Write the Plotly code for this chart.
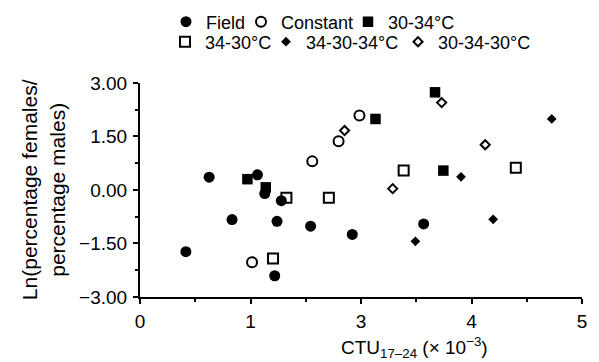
import plotly.graph_objects as go

# x values are in axis-position units; tick labels as printed on the original axis
X_TICK_POS = [0, 1, 2, 3, 4]
X_TICK_TEXT = ["0", "1", "3", "4", "5"]
X_MINOR_POS = [0.5, 1.5, 2.5, 3.5]
Y_TICK_VALS = [-3.0, -1.5, 0.0, 1.5, 3.0]

field_x = [0.626, 1.063, 1.129, 1.279, 0.833, 1.240, 1.544, 1.921, 0.415, 1.219, 2.567]
field_y = [0.357, 0.422, -0.101, -0.301, -0.831, -0.880, -1.017, -1.248, -1.730, -2.405, -0.952]

const_x = [1.559, 1.797, 1.986, 1.014]
const_y = [0.800, 1.361, 2.084, -2.029]

s3034_x = [0.972, 1.138, 2.131, 2.670, 2.745]
s3034_y = [0.301, 0.072, 1.988, 2.735, 0.542]

s3430_x = [1.325, 1.709, 1.204, 2.386, 3.401]
s3430_y = [-0.222, -0.222, -1.923, 0.542, 0.622]

s343034_x = [3.726, 2.905, 3.196, 2.492]
s343034_y = [1.988, 0.366, -0.824, -1.441]

s303430_x = [1.851, 2.730, 3.124, 2.287]
s303430_y = [1.663, 2.446, 1.265, 0.036]

FONT = "Liberation Sans, Arial, Helvetica, sans-serif"
W, H = 599, 362
L, R, T, B = 140, 583, 48, 297

# legend entry placement (symbol centre x, row centre y), in pixels
LEG_POS = {
    "legend": (188, 22), "legend2": (263, 22), "legend3": (370, 22),
    "legend4": (187, 42), "legend5": (288, 42), "legend6": (420, 42),
}

fig = go.Figure()

def add(name, xs, ys, symbol, size, lw, legend):
    fig.add_trace(go.Scatter(
        x=xs, y=ys, mode="markers", name=name, legend=legend,
        marker=dict(symbol=symbol, size=size, color="black",
                    line=dict(color="black", width=lw)),
        cliponaxis=False,
    ))

add("Field", field_x, field_y, "circle", 11, 0, "legend")
add("Constant", const_x, const_y, "circle-open", 10, 2, "legend2")
add("30-34°C", s3034_x, s3034_y, "square", 10.5, 0, "legend3")
add("34-30°C", s3430_x, s3430_y, "square-open", 10, 2, "legend4")
add("34-30-34°C", s343034_x, s343034_y, "diamond", 7.5, 0, "legend5")
add("30-34-30°C", s303430_x, s303430_y, "diamond-open", 7, 2, "legend6")

legends = {}
for key, (mx, my) in LEG_POS.items():
    legends[key] = dict(
        orientation="h", xref="container", yref="container",
        x=(mx - 22) / W, y=1 - my / H, xanchor="left", yanchor="middle",
        font=dict(family=FONT, size=18, color="black"),
        bgcolor="rgba(0,0,0,0)", borderwidth=0, itemwidth=30,
    )

fig.update_layout(
    width=W, height=H,
    margin=dict(l=L, r=W - R, t=T, b=H - B, pad=0),
    paper_bgcolor="white", plot_bgcolor="white",
    font=dict(family=FONT, color="black"),
    showlegend=True,
    **legends,
    xaxis=dict(
        range=[0, 4], showgrid=False, zeroline=False,
        showline=True, linecolor="black", linewidth=2,
        ticks="outside", ticklen=5, tickwidth=1.5, tickcolor="black",
        tickmode="array", tickvals=X_TICK_POS, ticktext=X_TICK_TEXT,
        tickfont=dict(family=FONT, size=19, color="black"),
        ticklabelstandoff=1,
        minor=dict(tickmode="array", tickvals=X_MINOR_POS, ticks="outside",
                   ticklen=3, tickwidth=1.5, tickcolor="black"),
    ),
    yaxis=dict(
        range=[-3, 3], showgrid=False, zeroline=False,
        showline=True, linecolor="black", linewidth=2,
        ticks="outside", ticklen=5, tickwidth=1.5, tickcolor="black",
        tickmode="array", tickvals=Y_TICK_VALS, tickformat=".2f",
        tickfont=dict(family=FONT, size=19, color="black"),
        ticklabelstandoff=2,
        minor=dict(ticks="outside", dtick=0.75, ticklen=3, tickwidth=1.5,
                   tickcolor="black"),
    ),
    annotations=[
        dict(text="CTU<sub>17–24</sub> (× 10<sup>−3</sup>)",
             xref="paper", yref="paper",
             x=(415 - L) / (R - L), y=(B - 356) / (B - T),
             xanchor="center", yanchor="middle", showarrow=False,
             font=dict(family=FONT, size=19, color="black")),
        dict(text="Ln(percentage females/<br>percentage males)",
             xref="paper", yref="paper",
             x=(43 - L) / (R - L), y=0.5, textangle=-90,
             xanchor="center", yanchor="middle", showarrow=False,
             font=dict(family=FONT, size=21, color="black")),
    ],
)

fig.write_html("out.html")
